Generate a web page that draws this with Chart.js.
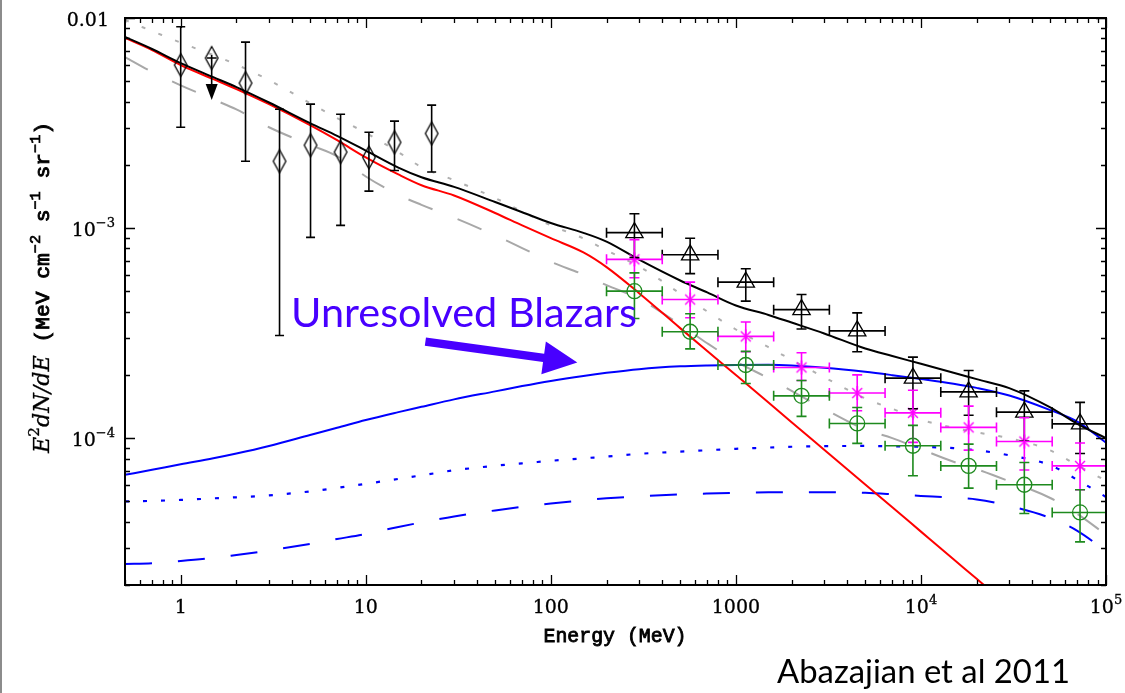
<!DOCTYPE html>
<html>
<head>
<meta charset="utf-8">
<script src="https://cdn.jsdelivr.net/npm/chart.js@4.4.1/dist/chart.umd.min.js"></script>
<style>
  html, body { margin: 0; padding: 0; background: #fff; }
  canvas { display: block; }
</style>
</head>
<body>
<canvas id="spectrum" width="1125" height="693"></canvas>
<script>
// ---- model curves, sampled on a common energy grid (MeV) ----
const energyGrid = [0.5, 0.7, 1, 1.5, 2, 3, 5, 7, 10, 15, 20, 30, 50, 70, 100, 150, 200, 300, 500, 700,
  1000, 1500, 2000, 3000, 5000, 7000, 1e4, 1.5e4, 2e4, 3e4, 5e4, 7e4, 1e5];

const totalModel = [8.12e-3, 7.12e-3, 6.10e-3, 5.23e-3, 4.69e-3, 3.96e-3, 3.16e-3, 2.75e-3, 2.34e-3, 1.94e-3,
  1.745e-3, 1.57e-3, 1.33e-3, 1.19e-3, 1.057e-3, 9.49e-4, 8.62e-4, 7.07e-4, 5.63e-4, 4.94e-4,
  4.28e-4, 3.86e-4, 3.55e-4, 3.15e-4, 2.67e-4, 2.46e-4, 2.26e-4, 2.05e-4, 1.91e-4, 1.73e-4, 1.40e-4, 1.17e-4, 1.00e-4];

const redModel = [8.03e-3, 7.04e-3, 5.97e-3, 5.12e-3, 4.59e-3, 3.89e-3, 3.09e-3, 2.62e-3, 2.17e-3, 1.80e-3,
  1.60e-3, 1.43e-3, 1.18e-3, 1.03e-3, 8.95e-4, 7.66e-4, 6.52e-4, 4.90e-4, 3.34e-4, 2.60e-4,
  2.00e-4, 1.48e-4, 1.19e-4, 8.81e-5, 6.02e-5, 4.69e-5, 3.59e-5, 2.65e-5, 2.14e-5, 1.58e-5, 1.08e-5, 8.41e-6, 6.45e-6];

const dashedGrey = [6.52e-3, 5.54e-3, 4.78e-3, 4.10e-3, 3.67e-3, 3.02e-3, 2.49e-3, 2.20e-3, 1.76e-3, 1.44e-3,
  1.29e-3, 1.12e-3, 9.23e-4, 8.03e-4, 6.91e-4, 6.01e-4, 5.35e-4, 4.61e-4, 3.47e-4, 2.83e-4,
  2.32e-4, 1.93e-4, 1.68e-4, 1.38e-4, 1.10e-4, 1.00e-4, 8.86e-5, 7.72e-5, 7.12e-5, 6.23e-5, 5.19e-5, 4.36e-5, 3.47e-5];

const dottedGrey = [9.78e-3, 8.67e-3, 7.63e-3, 6.66e-3, 6.00e-3, 5.06e-3, 3.93e-3, 3.34e-3, 2.84e-3, 2.30e-3,
  1.95e-3, 1.69e-3, 1.39e-3, 1.20e-3, 1.03e-3, 8.93e-4, 7.83e-4, 6.57e-4, 4.88e-4, 4.01e-4,
  3.29e-4, 2.71e-4, 2.36e-4, 1.95e-4, 1.545e-4, 1.38e-4, 1.224e-4, 1.12e-4, 1.065e-4, 1.00e-4, 8.74e-5, 7.43e-5, 6.26e-5];

const blazarSolid = [6.69e-5, 7.07e-5, 7.51e-5, 8.02e-5, 8.45e-5, 9.18e-5, 1.035e-4, 1.12e-4, 1.22e-4, 1.33e-4,
  1.41e-4, 1.53e-4, 1.67e-4, 1.77e-4, 1.872e-4, 1.978e-4, 2.047e-4, 2.131e-4, 2.198e-4, 2.220e-4,
  2.232e-4, 2.234e-4, 2.218e-4, 2.165e-4, 2.070e-4, 1.995e-4, 1.912e-4, 1.815e-4, 1.735e-4, 1.596e-4, 1.360e-4, 1.200e-4, 9.51e-5];

const blazarDotted = [5.00e-5, 5.03e-5, 5.08e-5, 5.17e-5, 5.23e-5, 5.34e-5, 5.58e-5, 5.80e-5, 6.06e-5, 6.40e-5,
  6.65e-5, 7.03e-5, 7.39e-5, 7.59e-5, 7.80e-5, 8.02e-5, 8.17e-5, 8.42e-5, 8.63e-5, 8.76e-5,
  8.90e-5, 9.02e-5, 9.10e-5, 9.16e-5, 9.18e-5, 9.15e-5, 9.10e-5, 8.96e-5, 8.76e-5, 8.29e-5, 7.43e-5, 6.33e-5, 5.25e-5];

const blazarDashed = [2.52e-5, 2.54e-5, 2.60e-5, 2.69e-5, 2.78e-5, 2.92e-5, 3.14e-5, 3.31e-5, 3.50e-5, 3.78e-5,
  3.97e-5, 4.24e-5, 4.53e-5, 4.71e-5, 4.89e-5, 5.06e-5, 5.17e-5, 5.28e-5, 5.40e-5, 5.45e-5,
  5.49e-5, 5.52e-5, 5.53e-5, 5.53e-5, 5.49e-5, 5.41e-5, 5.31e-5, 5.20e-5, 5.11e-5, 4.76e-5, 4.17e-5, 3.62e-5, 2.90e-5];

// ---- low-energy measurements (open diamonds) ----
const comptelE    = [1.0, 2.24, 3.42, 5.03, 7.31, 10.4, 14.3, 22.7];
const comptelFlux = [5.97e-3, 4.90e-3, 2.08e-3, 2.48e-3, 2.30e-3, 2.17e-3, 2.56e-3, 2.82e-3];
const comptelHi   = [9.09e-3, 7.68e-3, 3.68e-3, 3.89e-3, 3.48e-3, 2.86e-3, 3.23e-3, 3.85e-3];
const comptelLo   = [3.02e-3, 2.08e-3, 3.08e-4, 9.03e-4, 1.03e-3, 1.50e-3, 1.88e-3, 1.85e-3];
const limitE      = [1.47];
const limitFlux   = [6.45e-3];

// ---- high-energy binned measurements ----
const binE   = [283, 566, 1131, 2263, 4525, 9051, 18100, 36200, 72400];
const binELo = [200, 400, 800, 1600, 3200, 6400, 12800, 25600, 51200];
const binEHi = [400, 800, 1600, 3200, 6400, 12800, 25600, 51200, 102400];

const triangleFlux = [9.51e-4, 7.46e-4, 5.53e-4, 4.09e-4, 3.24e-4, 1.93e-4, 1.66e-4, 1.33e-4, 1.17e-4];
const triangleHi   = [1.17e-3, 8.95e-4, 6.40e-4, 4.83e-4, 3.95e-4, 2.43e-4, 2.10e-4, 1.68e-4, 1.48e-4];
const triangleLo   = [7.23e-4, 6.07e-4, 4.49e-4, 3.31e-4, 2.58e-4, 1.38e-4, 1.285e-4, 9.7e-5, 8.45e-5];

const starFlux = [7.10e-4, 4.57e-4, 3.05e-4, 2.17e-4, 1.64e-4, 1.32e-4, 1.125e-4, 9.64e-5, 7.38e-5];
const starHi   = [8.81e-4, 5.53e-4, 3.57e-4, 2.55e-4, 2.00e-4, 1.69e-4, 1.42e-4, 1.25e-4, 9.48e-5];
const starLo   = [5.8e-4, 3.74e-4, 2.58e-4, 1.88e-4, 1.35e-4, 9.55e-5, 8.77e-5, 7.05e-5, 5.68e-5];

const circleFlux = [5.01e-4, 3.21e-4, 2.23e-4, 1.59e-4, 1.175e-4, 9.20e-5, 7.38e-5, 6.0e-5, 4.43e-5];
const circleHi   = [6.12e-4, 3.91e-4, 2.59e-4, 1.88e-4, 1.40e-4, 1.15e-4, 9.37e-5, 7.66e-5, 5.68e-5];
const circleLo   = [3.71e-4, 2.66e-4, 1.82e-4, 1.27e-4, 9.44e-5, 6.62e-5, 5.78e-5, 4.38e-5, 3.21e-5];

// ---- axis ticks ----
const xTickValues = [1, 10, 100, 1000, 1e4, 1e5];
const xTickLabels = ['1', '10', '100', '1000', '10^4', '10^5'];
const yTickValues = [0.01, 1e-3, 1e-4];
const yTickLabels = ['0.01', '10^\u22123', '10^\u22124'];

// ---- annotation ----
const annotationText = 'Unresolved Blazars';
const creditText = 'Abazajian et al 2011';
const arrowTail = { x: 21.0, y: 2.88e-4 };
const arrowTip  = { x: 139, y: 2.29e-4 };

// ---------------------------------------------------------------
const GREEN = '#1e8a1e';
const MAGENTA = '#ff00ff';
const ANNOT = 'rgb(72,0,255)';

function pairs(xs, ys) { return xs.map((x, i) => ({ x: x, y: ys[i] })); }

function makeDiamond() {
  const cv = document.createElement('canvas');
  cv.width = 16; cv.height = 26;
  const g = cv.getContext('2d');
  g.strokeStyle = '#000'; g.lineWidth = 1.3;
  g.beginPath();
  g.moveTo(8, 1.5); g.lineTo(14.3, 13); g.lineTo(8, 24.5); g.lineTo(1.7, 13); g.closePath();
  g.stroke();
  return cv;
}
function makeAsterisk() {
  const cv = document.createElement('canvas');
  cv.width = 18; cv.height = 18;
  const g = cv.getContext('2d');
  g.strokeStyle = MAGENTA; g.lineWidth = 1.4;
  const r = 7;
  g.beginPath();
  for (const a of [90, 45, 135]) {
    const t = a * Math.PI / 180;
    g.moveTo(9 - r * Math.cos(t), 9 - r * Math.sin(t));
    g.lineTo(9 + r * Math.cos(t), 9 + r * Math.sin(t));
  }
  g.stroke();
  return cv;
}
const diamondStyle = makeDiamond();
const asteriskStyle = makeAsterisk();

function lineSet(values, color, width, dash) {
  return {
    type: 'line', data: pairs(energyGrid, values), borderColor: color, borderWidth: width,
    borderDash: dash || [], pointRadius: 0, cubicInterpolationMode: 'monotone', fill: false
  };
}
function markerSet(xs, ys, style, color, radius) {
  return {
    type: 'line', data: pairs(xs, ys), showLine: false, pointStyle: style, pointRadius: radius,
    borderColor: color, backgroundColor: 'rgba(0,0,0,0)', pointBorderWidth: 1.3
  };
}

function richWidth(ctx, segs) {
  let w = 0;
  for (const s of segs) { ctx.font = s.font; w += ctx.measureText(s.text).width; }
  return w;
}
function drawRich(ctx, segs, x, y, k) {
  ctx.save();
  ctx.translate(x, y);
  ctx.scale(k || 1, 1);
  let cx = 0;
  for (const s of segs) {
    ctx.font = s.font;
    ctx.fillText(s.text, cx, -(s.rise || 0));
    if (s.weight) {
      ctx.lineWidth = s.weight;
      ctx.strokeStyle = ctx.fillStyle;
      ctx.strokeText(s.text, cx, -(s.rise || 0));
    }
    cx += ctx.measureText(s.text).width;
  }
  ctx.restore();
}
const TICK_FONT = '19px "DejaVu Serif"';
const SUP_FONT = '13px "DejaVu Serif"';
function tickSegs(label) {
  const parts = label.split('^');
  const segs = [{ text: parts[0], font: TICK_FONT, weight: 0.3 }];
  if (parts[1]) segs.push({ text: parts[1], font: SUP_FONT, rise: 9, weight: 0.3 });
  return segs;
}

function errorBars(ctx, sx, sy, e, v, lo, hi, elo, ehi, color, cap) {
  ctx.strokeStyle = color;
  ctx.lineWidth = 1.6;
  for (let i = 0; i < e.length; i++) {
    const x = sx.getPixelForValue(e[i]);
    const y = sy.getPixelForValue(v[i]);
    ctx.beginPath();
    if (lo) {
      const y1 = sy.getPixelForValue(lo[i]), y2 = sy.getPixelForValue(hi[i]);
      ctx.moveTo(x, y1); ctx.lineTo(x, y2);
      ctx.moveTo(x - cap, y1); ctx.lineTo(x + cap, y1);
      ctx.moveTo(x - cap, y2); ctx.lineTo(x + cap, y2);
    }
    if (elo) {
      const x1 = sx.getPixelForValue(elo[i]), x2 = sx.getPixelForValue(ehi[i]);
      ctx.moveTo(x1, y); ctx.lineTo(x2, y);
      ctx.moveTo(x1, y - cap); ctx.lineTo(x1, y + cap);
      ctx.moveTo(x2, y - cap); ctx.lineTo(x2, y + cap);
    }
    ctx.stroke();
  }
}

const decorations = {
  id: 'decorations',
  beforeDraw(chart) {
    const ctx = chart.ctx;
    ctx.save();
    ctx.fillStyle = '#fff';
    ctx.fillRect(0, 0, chart.width, chart.height);
    // page edge on the left
    ctx.fillStyle = '#8c8c8c';
    ctx.fillRect(0, 0, 2, chart.height);
    ctx.restore();
  },
  afterDatasetsDraw(chart) {
    const ctx = chart.ctx, sx = chart.scales.x, sy = chart.scales.y, a = chart.chartArea;
    ctx.save();
    ctx.beginPath();
    ctx.rect(a.left, a.top, a.right - a.left, a.bottom - a.top);
    ctx.clip();
    errorBars(ctx, sx, sy, comptelE, comptelFlux, comptelLo, comptelHi, null, null, '#000', 4.5);
    errorBars(ctx, sx, sy, binE, triangleFlux, triangleLo, triangleHi, binELo, binEHi, '#000', 5);
    errorBars(ctx, sx, sy, binE, starFlux, starLo, starHi, binELo, binEHi, MAGENTA, 5);
    errorBars(ctx, sx, sy, binE, circleFlux, circleLo, circleHi, binELo, binEHi, GREEN, 5);
    // upper limit: short bar with downward arrow
    ctx.strokeStyle = '#000'; ctx.fillStyle = '#000'; ctx.lineWidth = 1.6;
    for (let i = 0; i < limitE.length; i++) {
      const x = sx.getPixelForValue(limitE[i]), y = sy.getPixelForValue(limitFlux[i]);
      ctx.beginPath();
      ctx.moveTo(x - 5, y); ctx.lineTo(x + 5, y);
      ctx.moveTo(x, y - 3); ctx.lineTo(x, y + 28);
      ctx.stroke();
      ctx.beginPath();
      ctx.moveTo(x - 6, y + 26); ctx.lineTo(x + 6, y + 26); ctx.lineTo(x, y + 42); ctx.closePath();
      ctx.fill();
    }
    ctx.restore();
  },
  afterDraw(chart) {
    const ctx = chart.ctx, sx = chart.scales.x, sy = chart.scales.y, a = chart.chartArea;
    ctx.save();
    // frame
    ctx.strokeStyle = '#000';
    ctx.lineWidth = 2;
    ctx.strokeRect(a.left, a.top, a.right - a.left, a.bottom - a.top);
    // ticks on all four sides
    ctx.lineWidth = 1.3;
    ctx.beginPath();
    for (let d = -1; d <= 5; d++) {
      for (let m = 1; m <= 9; m++) {
        const v = m * Math.pow(10, d);
        if (v < sx.min * 0.999 || v > sx.max * 1.001) continue;
        const px = Math.round(sx.getPixelForValue(v)) + 0.5;
        const len = m === 1 ? 10 : 5;
        ctx.moveTo(px, a.bottom); ctx.lineTo(px, a.bottom - len);
        ctx.moveTo(px, a.top); ctx.lineTo(px, a.top + len);
      }
    }
    for (let d = -5; d <= -2; d++) {
      for (let m = 1; m <= 9; m++) {
        const v = m * Math.pow(10, d);
        if (v < sy.min * 0.999 || v > sy.max * 1.001) continue;
        const py = Math.round(sy.getPixelForValue(v)) + 0.5;
        const len = m === 1 ? 10 : 5;
        ctx.moveTo(a.left, py); ctx.lineTo(a.left + len, py);
        ctx.moveTo(a.right, py); ctx.lineTo(a.right - len, py);
      }
    }
    ctx.stroke();

    // tick labels
    ctx.fillStyle = '#000';
    ctx.textBaseline = 'alphabetic';
    ctx.textAlign = 'left';
    xTickValues.forEach((v, i) => {
      const segs = tickSegs(xTickLabels[i]);
      const w = richWidth(ctx, segs);
      drawRich(ctx, segs, sx.getPixelForValue(v) - w / 2, a.bottom + 28);
    });
    yTickValues.forEach((v, i) => {
      const segs = tickSegs(yTickLabels[i]);
      const w = richWidth(ctx, segs);
      const right = segs.length > 1 ? a.left - 10 : a.left - 16;
      drawRich(ctx, segs, right - w, sy.getPixelForValue(v) + 8);
    });

    // x title
    const xt = [{ text: 'Energy (MeV)', font: '21px "Liberation Mono"', weight: 0.9 }];
    const xw = richWidth(ctx, xt);
    drawRich(ctx, xt, 615 - 143 / 2, 642, 143 / xw);

    // y title, rotated
    const mono = '21px "Liberation Mono"', monoSup = '15px "Liberation Mono"';
    const yt = [
      { text: 'E', font: 'italic 22px "DejaVu Serif"', weight: 0.3 },
      { text: '2', font: '15px "DejaVu Serif"', rise: 10, weight: 0.3 },
      { text: 'dN/dE', font: 'italic 22px "DejaVu Serif"', weight: 0.3 },
      { text: ' (MeV cm', font: mono, weight: 0.9 },
      { text: '\u22122', font: monoSup, rise: 9, weight: 0.7 },
      { text: ' s', font: mono, weight: 0.9 },
      { text: '\u22121', font: monoSup, rise: 9, weight: 0.7 },
      { text: ' sr', font: mono, weight: 0.9 },
      { text: '\u22121', font: monoSup, rise: 9, weight: 0.7 },
      { text: ')', font: mono, weight: 0.9 }
    ];
    const yw = richWidth(ctx, yt);
    ctx.save();
    ctx.translate(49, 453);
    ctx.rotate(-Math.PI / 2);
    drawRich(ctx, yt, 0, 0, 331 / yw);
    ctx.restore();

    // annotation
    ctx.fillStyle = ANNOT;
    const at = [{ text: annotationText, font: '40px Lato' }];
    drawRich(ctx, at, 291, 327, 346 / richWidth(ctx, at));
    const tx = sx.getPixelForValue(arrowTail.x), ty = sy.getPixelForValue(arrowTail.y);
    const hx = sx.getPixelForValue(arrowTip.x), hy = sy.getPixelForValue(arrowTip.y);
    const L = Math.hypot(hx - tx, hy - ty), ux = (hx - tx) / L, uy = (hy - ty) / L;
    const nx = -uy, ny = ux, headLen = 34, headW = 16.5, shaftW = 4.2;
    const bx = hx - ux * headLen, by = hy - uy * headLen;
    ctx.beginPath();
    ctx.moveTo(tx + nx * shaftW, ty + ny * shaftW);
    ctx.lineTo(bx + nx * shaftW, by + ny * shaftW);
    ctx.lineTo(bx + nx * headW, by + ny * headW);
    ctx.lineTo(hx, hy);
    ctx.lineTo(bx - nx * headW, by - ny * headW);
    ctx.lineTo(bx - nx * shaftW, by - ny * shaftW);
    ctx.lineTo(tx - nx * shaftW, ty - ny * shaftW);
    ctx.closePath();
    ctx.fill();

    // credit line
    ctx.fillStyle = '#000';
    const ct = [{ text: creditText, font: '32px Lato' }];
    drawRich(ctx, ct, 777, 683, 293 / richWidth(ctx, ct));
    ctx.restore();
  }
};

new Chart(document.getElementById('spectrum'), {
  type: 'line',
  data: {
    datasets: [
      markerSet(comptelE, comptelFlux, diamondStyle, '#000', 6),
      markerSet(limitE, limitFlux, diamondStyle, '#000', 6),
      markerSet(binE, triangleFlux, 'triangle', '#000', 10),
      markerSet(binE, starFlux, asteriskStyle, MAGENTA, 6),
      markerSet(binE, circleFlux, 'circle', GREEN, 7.5),
      lineSet(totalModel, '#000', 2),
      lineSet(redModel, '#ff0000', 2),
      lineSet(blazarSolid, '#0000ff', 2),
      lineSet(blazarDotted, '#0000ff', 2.2, [4, 14]),
      lineSet(blazarDashed, '#0000ff', 2, [27, 26]),
      lineSet(dashedGrey, '#a8a8a8', 2, [26, 27]),
      lineSet(dottedGrey, '#b0b0b0', 2, [4, 14])
    ]
  },
  options: {
    responsive: false,
    animation: false,
    devicePixelRatio: 1,
    events: [],
    layout: { padding: { left: 125, right: 19, top: 18, bottom: 108 } },
    plugins: { legend: { display: false }, tooltip: { enabled: false } },
    scales: {
      x: { type: 'logarithmic', min: 0.5, max: 1e5, display: false },
      y: { type: 'logarithmic', min: 2e-5, max: 0.01, display: false }
    }
  },
  plugins: [decorations]
});
</script>
</body>
</html>
